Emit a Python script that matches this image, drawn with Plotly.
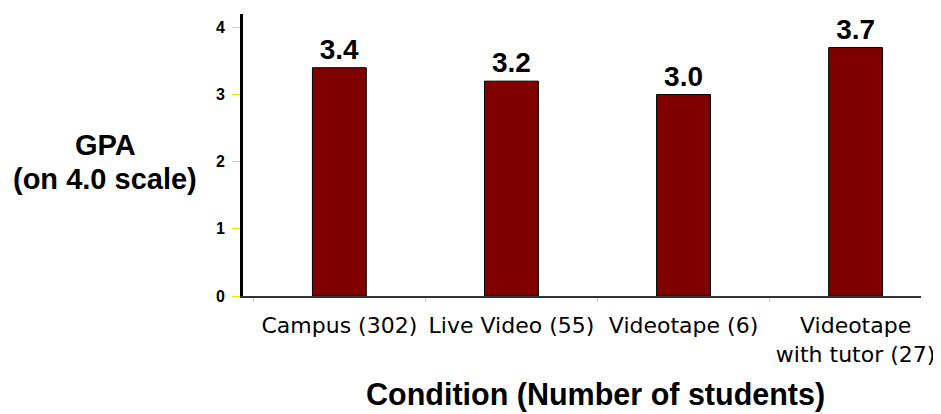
import plotly.graph_objects as go

categories = ["Campus (302)", "Live Video (55)", "Videotape (6)", "Videotape<br>with tutor (27)"]
gpa = [3.4, 3.2, 3.0, 3.7]
bar_labels = ["3.4", "3.2", "3.0", "3.7"]
y_ticks = [0, 1, 2, 3, 4]

ARIAL = "Liberation Sans, Arial, sans-serif"
WIDE = "DejaVu Sans, Liberation Sans, sans-serif"

fig = go.Figure(go.Bar(
    x=categories, y=gpa, text=bar_labels, textposition="outside",
    textfont=dict(family=ARIAL, size=28, color="black", weight="bold"),
    marker=dict(color="#800000", line=dict(color="black", width=1)),
    width=0.313, cliponaxis=False,
))

fig.update_layout(
    width=941, height=414,
    margin=dict(l=235, r=28, t=6, b=126),
    plot_bgcolor="white", paper_bgcolor="white",
    showlegend=False,
    font=dict(family=ARIAL, color="black"),
    annotations=[
        dict(text="GPA", xref="paper", yref="paper",
             x=-0.203, y=0.535, showarrow=False, xanchor="center", yanchor="middle",
             font=dict(family=ARIAL, size=29, color="black", weight="bold")),
        dict(text="(on 4.0 scale)", xref="paper", yref="paper",
             x=-0.203, y=0.415, showarrow=False, xanchor="center", yanchor="middle",
             font=dict(family=ARIAL, size=29, color="black", weight="bold")),
        dict(text="Condition (Number of students)", xref="paper", yref="paper",
             x=0.52, y=-0.348, showarrow=False, xanchor="center", yanchor="middle",
             font=dict(family=ARIAL, size=30.5, color="black", weight="bold")),
    ],
)
fig.update_xaxes(
    range=[-0.56, 3.38],
    showline=True, linecolor="#333", linewidth=2,
    ticks="outside", tickson="boundaries", tickcolor="#e8e800", ticklen=4, tickwidth=1,
    tickfont=dict(family=WIDE, size=22, color="black"), tickangle=0,
    ticklabelstandoff=9,
    showgrid=False,
)
fig.update_yaxes(
    range=[0, 4.2], tickvals=y_ticks,
    showline=True, linecolor="black", linewidth=3,
    ticks="outside", tickcolor="#e8e800", ticklen=8, tickwidth=1,
    tickfont=dict(family=ARIAL, size=16, color="black", weight="bold"),
    ticklabelstandoff=4,
    showgrid=False, zeroline=False,
)

fig.write_html("out.html")
